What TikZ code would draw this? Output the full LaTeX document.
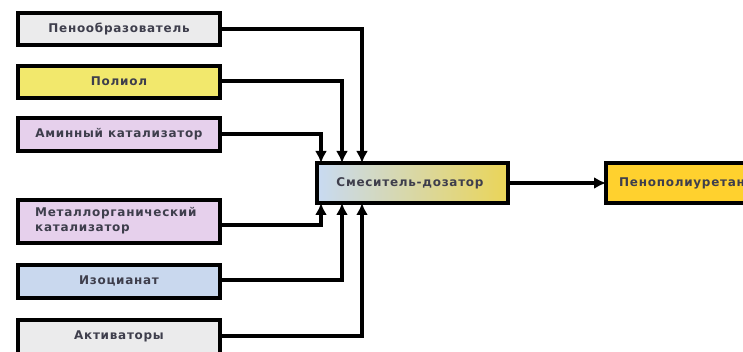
\documentclass[tikz,border=0pt]{standalone}
\usepackage{fontspec}
\setmainfont{DejaVu Sans}
\newfontfamily\boxfont[LetterSpace=6]{DejaVu Sans Bold}
\usetikzlibrary{arrows.meta}
\definecolor{txt}{HTML}{3E3E4C}
\definecolor{cgrey}{HTML}{EBEBEC}
\definecolor{cyellow}{HTML}{F2E86C}
\definecolor{clilac}{HTML}{E6D0EC}
\definecolor{cblue}{HTML}{C9D8EE}
\definecolor{cmixl}{HTML}{C8DAF2}
\definecolor{cmixr}{HTML}{EAD558}
\definecolor{cout}{HTML}{FFD12E}
\tikzset{
  boxstyle/.style={draw=black, line width=3.4pt},
  label/.style={font=\boxfont\fontsize{12pt}{15pt}\selectfont, text=txt, inner sep=0pt},
  link/.style={line width=3.4pt, -{Latex[length=12pt,width=12pt]}},
}
\begin{document}
\begin{tikzpicture}[x=1pt,y=-1pt]
\useasboundingbox (0,0) rectangle (743,352);
\clip (0,0) rectangle (743,352);

% source boxes
\draw[boxstyle, fill=cgrey]   (18,13)  rectangle (220,45);
\node[label] (t1) at (119,29) {Пенообразователь};
\draw[boxstyle, fill=cyellow] (18,66)  rectangle (220,98);
\node[label] (t2) at (119,81) {Полиол};
\draw[boxstyle, fill=clilac]  (18,118) rectangle (220,151);
\node[label] (t3) at (119,134) {Аминный катализатор};
\draw[boxstyle, fill=clilac]  (18,200) rectangle (220,243);
\node[label, anchor=west, align=left] (t4) at (35,221) {Металлорганический\\катализатор};
\draw[boxstyle, fill=cblue]   (18,265) rectangle (220,298);
\node[label] (t5) at (119,281) {Изоцианат};
\draw[boxstyle, fill=cgrey]   (18,320) rectangle (220,360);
\node[label] (t6) at (119,336) {Активаторы};

% connection points on the right sides of the source boxes
\coordinate (s1) at (220,29);
\coordinate (s2) at (220,81);
\coordinate (s3) at (220,134);
\coordinate (s4) at (220,225);
\coordinate (s5) at (220,280);
\coordinate (s6) at (220,336);

% mixer and product
\shade[left color=cmixl, right color=cmixr] (317,163) rectangle (508,203);
\draw[boxstyle] (317,163) rectangle (508,203);
\node[label] (mix) at (410,183) {Смеситель-дозатор};
\draw[boxstyle, fill=cout] (606,163) rectangle (780,203);
\node[label, anchor=west] (out) at (619,183) {Пенополиуретан};

\coordinate (m1) at (362,163);
\coordinate (m2) at (342,163);
\coordinate (m3) at (321,163);
\coordinate (m4) at (321,203);
\coordinate (m5) at (342,203);
\coordinate (m6) at (362,203);
\coordinate (mo) at (508,183);
\coordinate (oi) at (606,183);

\draw[link] (s1) -| (m1);
\draw[link] (s2) -| (m2);
\draw[link] (s3) -| (m3);
\draw[link] (s4) -| (m4);
\draw[link] (s5) -| (m5);
\draw[link] (s6) -| (m6);
\draw[link] (mo) -- (oi);
\end{tikzpicture}
\end{document}
